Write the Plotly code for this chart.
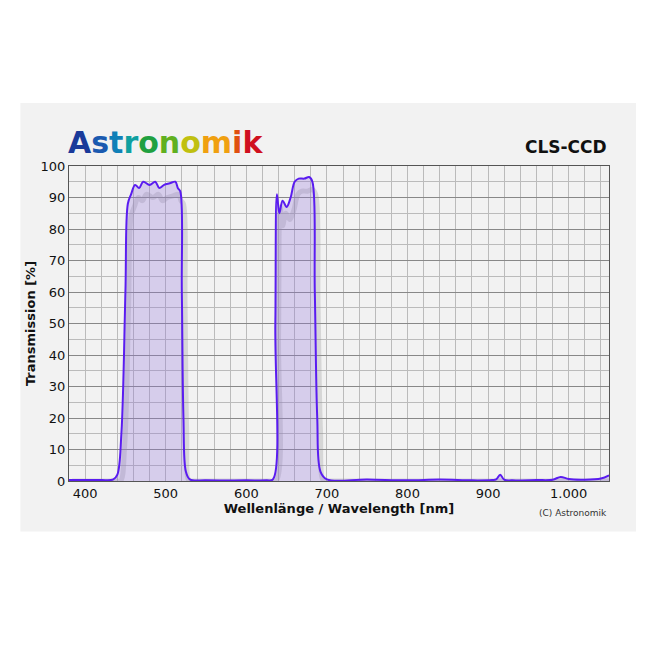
import plotly.graph_objects as go

wl = [380,400,420,435,440,445,450,453,457,462,467,472,480,487,492,498,505,512,515,518,520,522,525,530,550,600,625,633,636,638,641,645,650,655,660,665,672,678,682,685,688,692,700,750,800,840,880,905,910,915,920,930,960,980,990,1000,1020,1040,1050]
tr = [0.3,0.3,0.3,0.5,2,15,60,88,91,94,93,95,94,95,93,94,94.5,95,93,92,60,20,3,0.5,0.2,0.2,0.2,0.5,50,91,85,89,87,90,95,96,96,96.5,95,60,20,3,0.5,0.5,0.2,0.5,0.2,0.3,0.5,2,0.4,0.2,0.3,0.4,1.3,0.6,0.4,0.8,1.8]

xt = [400,500,600,700,800,900,1000]
xtl = ["400","500","600","700","800","900","1.000"]

fig = go.Figure()
fig.add_trace(go.Scatter(x=[w+4 for w in wl], y=[max(t-4,0) for t in tr], mode="lines", line_shape="spline",
    line=dict(color="rgba(150,150,150,0.3)", width=5), hoverinfo="skip"))
fig.add_trace(go.Scatter(x=wl, y=tr, mode="lines", fill="tozeroy", line_shape="spline",
    fillcolor="rgba(150,120,220,0.3)", line=dict(color="#5a1cf0", width=2)))

fig.add_shape(type="rect", xref="paper", yref="paper", x0=-0.09, x1=1.05, y0=-0.16, y1=1.2,
    fillcolor="#f2f2f2", line_width=0, layer="below")

colors = ["#1a3a9a","#1a5ab0","#1080b8","#10a0a0","#20a040","#60b020","#c0c010","#f0a010","#e05010","#d01020"]
logo = "".join(f"<span style='color:{c}'>{ch}</span>" for c, ch in zip(colors, "Astronomik"))
fig.add_annotation(text="<b>"+logo+"</b>", xref="paper", yref="paper", x=-0.005, y=1.075,
    xanchor="left", yanchor="middle", showarrow=False, font=dict(family="DejaVu Sans", size=30))
fig.add_annotation(text="<b>CLS-CCD</b>", xref="paper", yref="paper", x=1, y=1.06, xanchor="right",
    yanchor="middle", showarrow=False, font=dict(family="DejaVu Sans", size=17, color="#111"))
fig.add_annotation(text="(C) Astronomik", xref="paper", yref="paper", x=1, y=-0.1, xanchor="right",
    yanchor="middle", showarrow=False, font=dict(family="DejaVu Sans", size=9, color="#333"))

fig.update_layout(width=650, height=650, showlegend=False, paper_bgcolor="white", plot_bgcolor="#fafafa",
    margin=dict(l=61, r=49, t=158, b=177),
    xaxis=dict(range=[380,1050], tickvals=xt, ticktext=xtl, showgrid=False, zeroline=False, automargin=False,
        minor=dict(dtick=20, showgrid=True, gridcolor="#bbbbbb", gridwidth=1),
        showline=True, linecolor="#555", mirror=True, ticks="",
        title=dict(text="<b>Wellenlänge / Wavelength [nm]</b>", standoff=0, font=dict(size=13, color="#111")),
        tickfont=dict(size=13, color="#111")),
    yaxis=dict(range=[0,100], dtick=10, gridcolor="#888", zeroline=False, automargin=False,
        minor=dict(dtick=5, showgrid=True, gridcolor="#bbbbbb"),
        showline=True, linecolor="#555", mirror=True,
        title=dict(text="<b>Transmission [%]</b>", standoff=2, font=dict(size=13, color="#111")),
        tickfont=dict(size=13, color="#111")),
    font=dict(family="DejaVu Sans"))
fig.write_html("out.html")
